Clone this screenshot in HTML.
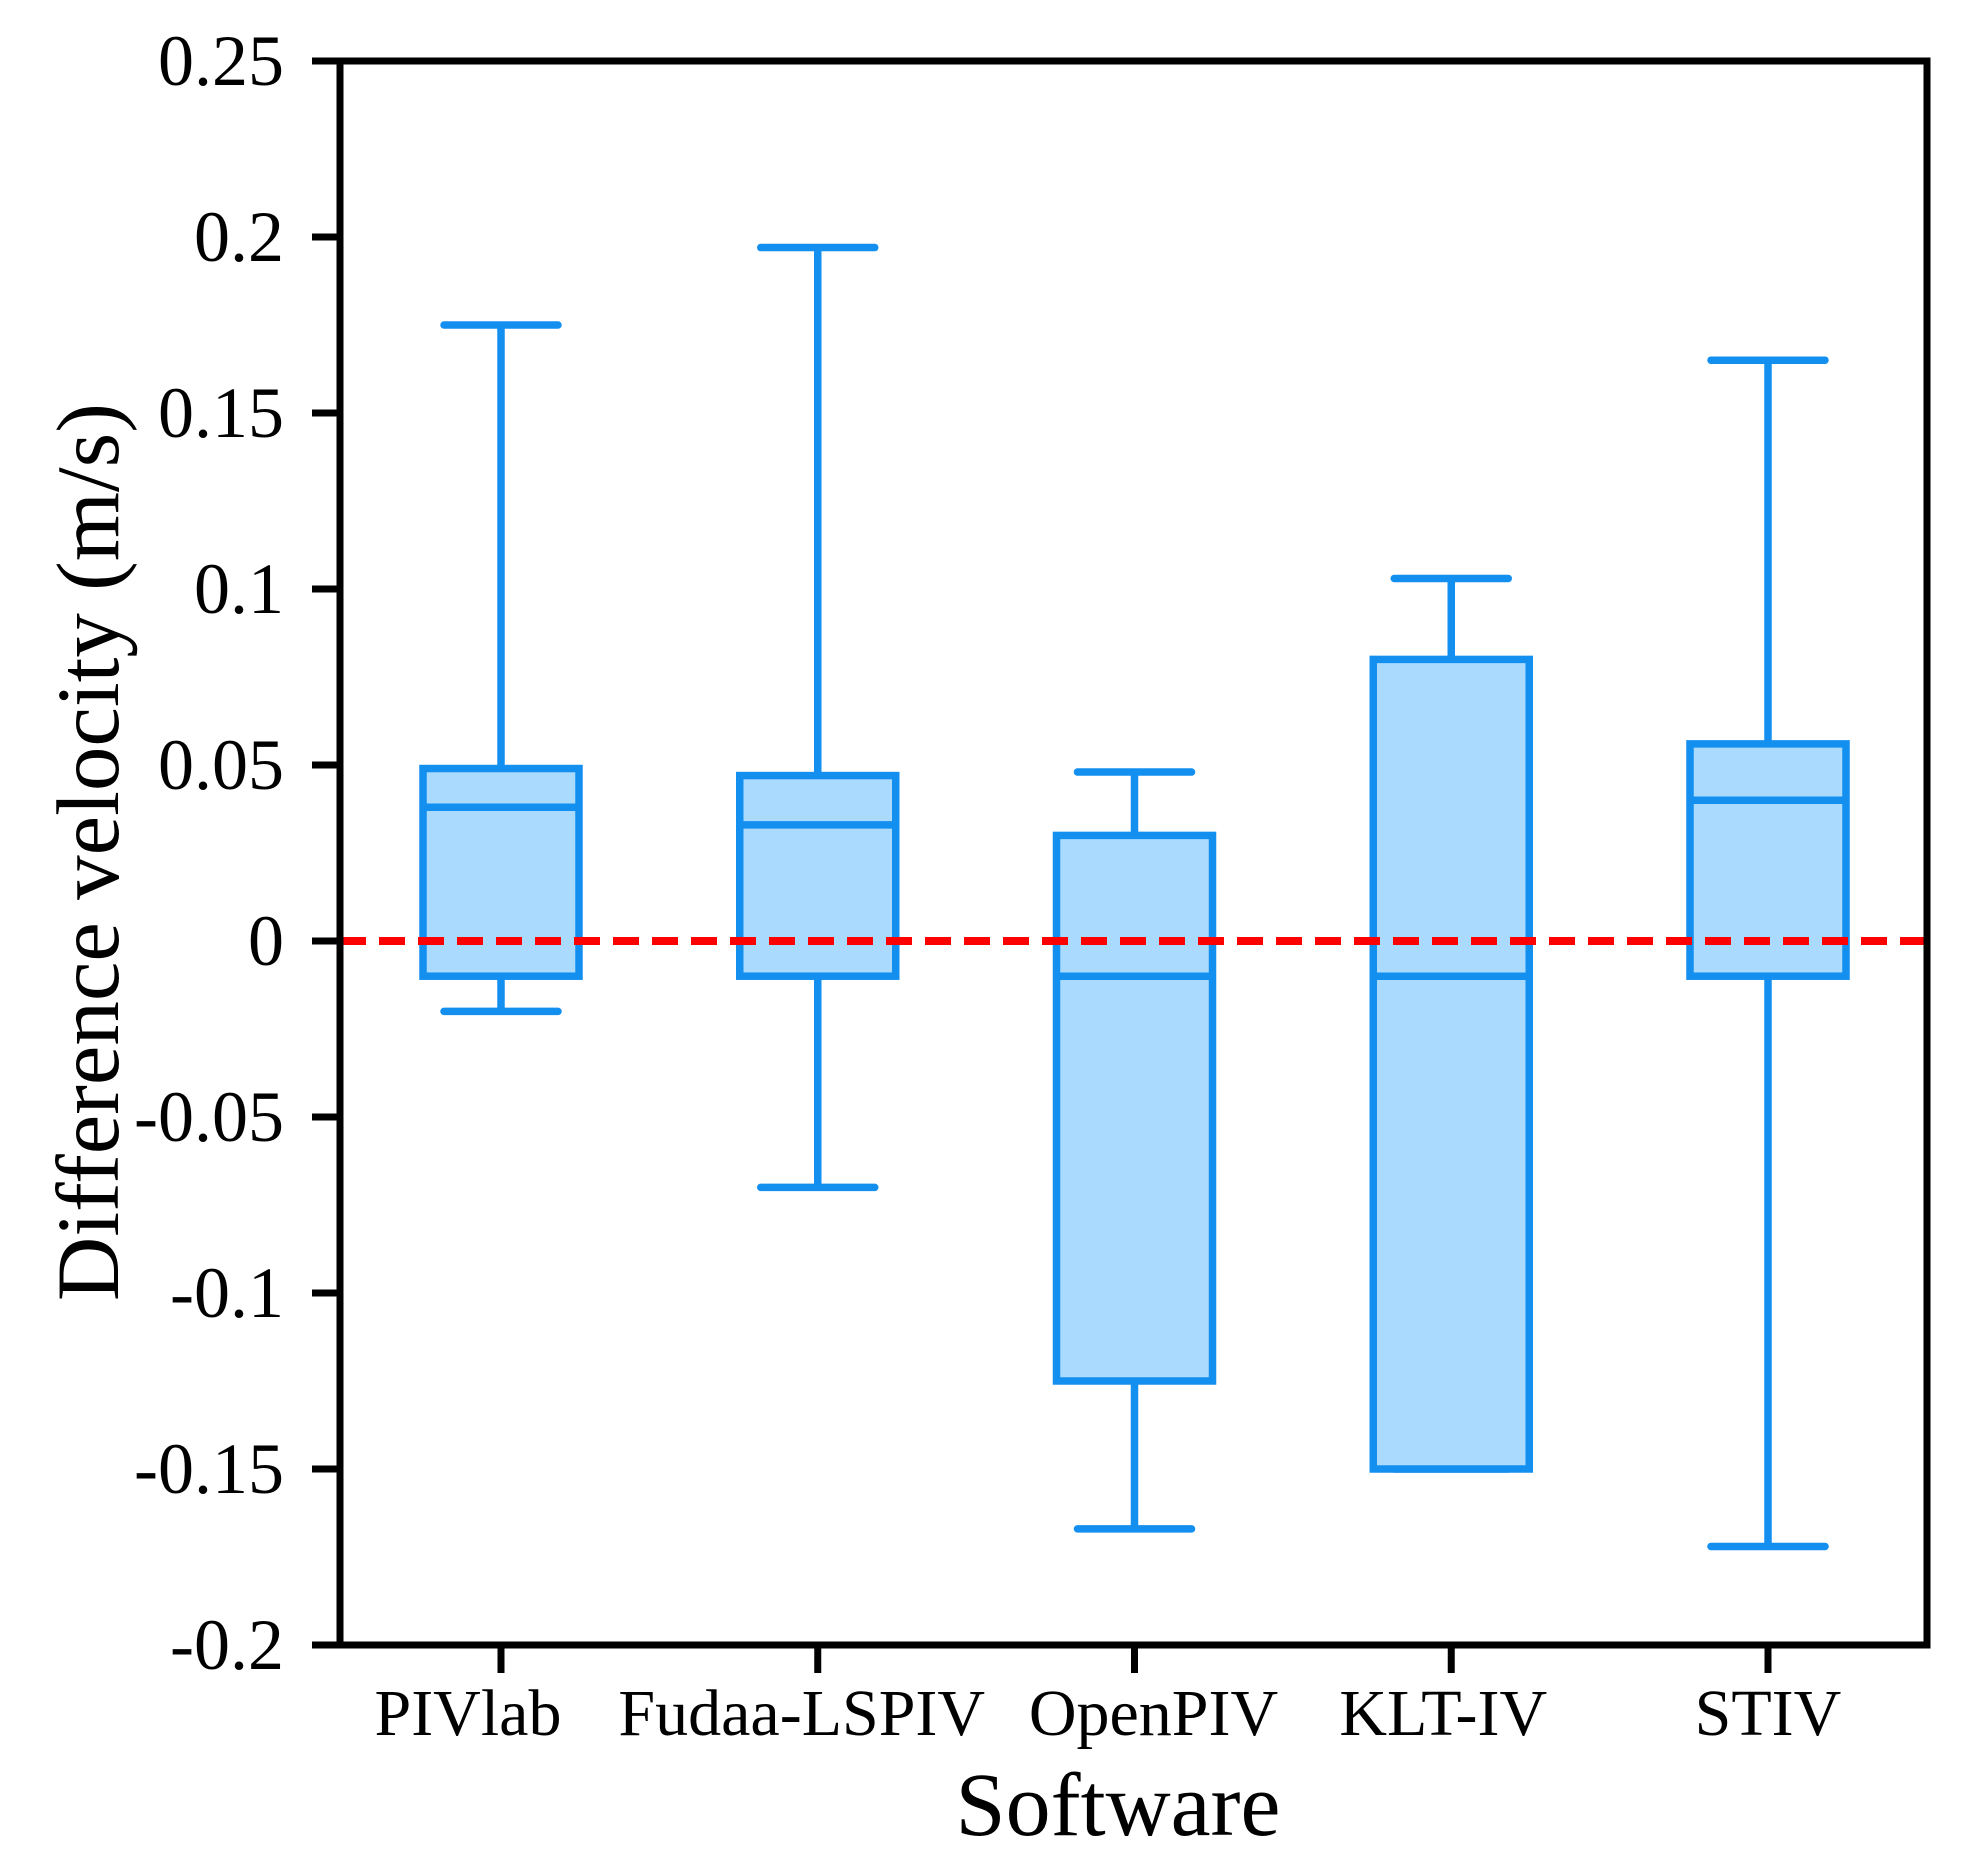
<!DOCTYPE html>
<html><head><meta charset="utf-8"><style>
html,body{margin:0;padding:0;background:#fff;}
svg{display:block;font-family:"Liberation Serif",serif;}
</style></head><body>
<svg id="chart" width="1969" height="1859" viewBox="0 0 1969 1859" xmlns="http://www.w3.org/2000/svg"></svg>
<script>
const categories=["PIVlab","Fudaa-LSPIV","OpenPIV","KLT-IV","STIV"];
const whiskerHigh=[0.175,0.197,0.048,0.103,0.165];
const q3Values=[0.049,0.047,0.030,0.080,0.056];
const medianValues=[0.038,0.033,-0.010,-0.010,0.040];
const q1Values=[-0.010,-0.010,-0.125,-0.150,-0.010];
const whiskerLow=[-0.020,-0.070,-0.167,-0.150,-0.172];
const yTicks=[0.25,0.2,0.15,0.1,0.05,0,-0.05,-0.1,-0.15,-0.2];
const yTickLabels=["0.25","0.2","0.15","0.1","0.05","0","-0.05","-0.1","-0.15","-0.2"];

const NS="http://www.w3.org/2000/svg";
const svg=document.getElementById('chart');
const L=340,R=1927,T=61,B=1645,yMax=0.25,yMin=-0.2;
const y=v=>T+(yMax-v)/(yMax-yMin)*(B-T);
const x0=501,dx=316.75;
const x=i=>x0+i*dx;
const labelOffsets=[-33,-16,19,-8,0];
const blue="#138ff0",fill="#aadbff";
const sw=7.5;
function el(tag,attrs){const e=document.createElementNS(NS,tag);for(const k in attrs)e.setAttribute(k,attrs[k]);svg.appendChild(e);return e;}

categories.forEach((c,i)=>{
  const cx=x(i),hw=78,cw=57;
  const g=document.createElementNS(NS,'g');svg.appendChild(g);
  
  
  function add(tag,a,name){const e=document.createElementNS(NS,tag);for(const k in a)e.setAttribute(k,a[k]);
    
    
    g.appendChild(e);}
  add('line',{x1:cx,x2:cx,y1:y(whiskerHigh[i]),y2:y(q3Values[i]),stroke:blue,'stroke-width':sw},'upper-whisker');
  add('line',{x1:cx,x2:cx,y1:y(q1Values[i]),y2:y(whiskerLow[i]),stroke:blue,'stroke-width':sw},'lower-whisker');
  add('line',{x1:cx-cw,x2:cx+cw,y1:y(whiskerHigh[i]),y2:y(whiskerHigh[i]),stroke:blue,'stroke-width':sw,'stroke-linecap':'round'},'upper-cap');
  add('line',{x1:cx-cw,x2:cx+cw,y1:y(whiskerLow[i]),y2:y(whiskerLow[i]),stroke:blue,'stroke-width':sw,'stroke-linecap':'round'},'lower-cap');
  add('rect',{x:cx-hw,y:y(q3Values[i]),width:2*hw,height:y(q1Values[i])-y(q3Values[i]),fill:fill,stroke:blue,'stroke-width':sw},'iqr-box');
  add('line',{x1:cx-hw,x2:cx+hw,y1:y(medianValues[i]),y2:y(medianValues[i]),stroke:blue,'stroke-width':sw},'median-line');
});

const zl=el('line',{x1:L,x2:R,y1:y(0),y2:y(0),stroke:"#ff0000",'stroke-width':8,'stroke-dasharray':'26 13'});



const frame=el('rect',{x:L,y:T,width:R-L,height:B-T,fill:'none',stroke:'#000','stroke-width':7});



yTicks.forEach((v,i)=>{
  const t=el('line',{x1:L-28,x2:L,y1:y(v),y2:y(v),stroke:'#000','stroke-width':7});
  
  
  const tx=el('text',{x:284,y:y(v)+24,'text-anchor':'end','font-size':72});
  tx.textContent=yTickLabels[i];
  
  
});
categories.forEach((c,i)=>{
  const t=el('line',{x1:x(i),x2:x(i),y1:B,y2:B+28,stroke:'#000','stroke-width':7});
  
  
  const tx=el('text',{x:x(i)+labelOffsets[i],y:1735,'text-anchor':'middle','font-size':66});
  tx.textContent=c;
  
  
});
const xt=el('text',{x:1118,y:1835,'text-anchor':'middle','font-size':90});
xt.textContent="Software";


const yt=el('text',{x:0,y:0,'text-anchor':'middle','font-size':89,transform:'translate(118,852) rotate(-90)'});
yt.textContent="Difference velocity (m/s)";


</script>
</body></html>
